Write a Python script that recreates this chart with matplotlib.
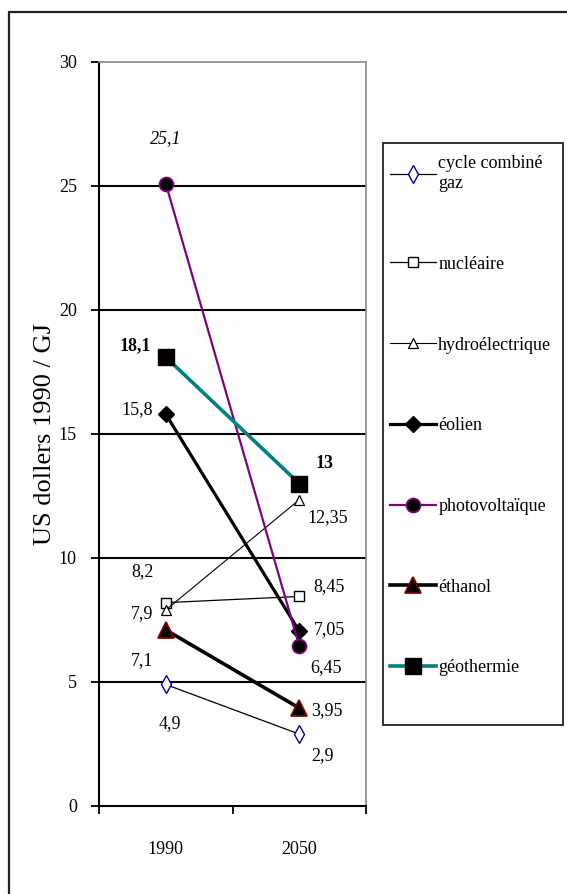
import matplotlib
matplotlib.use("Agg")
import matplotlib.pyplot as plt
from matplotlib.patches import Rectangle

plt.rcParams['font.family'] = ['Liberation Serif', 'DejaVu Serif']

years = ["1990", "2050"]
series_names = ["cycle combiné\ngaz", "nucléaire", "hydroélectrique", "éolien",
                "photovoltaïque", "éthanol", "géothermie"]
cycle_gaz = [4.9, 2.9]
nucleaire = [8.2, 8.45]
hydro = [7.9, 12.35]
eolien = [15.8, 7.05]
photovoltaique = [25.1, 6.45]
ethanol = [7.1, 3.95]
geothermie = [18.1, 13.0]
label_1990 = ["4,9", "8,2", "7,9", "15,8", "25,1", "7,1", "18,1"]
label_2050 = ["2,9", "8,45", "12,35", "7,05", "6,45", "3,95", "13"]
y_ticks = [0, 5, 10, 15, 20, 25, 30]

W, H = 567, 894
fig = plt.figure(figsize=(W / 100, H / 100), dpi=100)
fig.patch.set_facecolor("white")

# outer frame (left/top visible, extends beyond right/bottom)
fig.patches.append(Rectangle((9 / W, -0.1), 2.0, 1 - 12 / H + 0.1, transform=fig.transFigure,
                             fill=False, edgecolor="#222222", linewidth=1.6))
# legend box
fig.patches.append(Rectangle((383 / W, 1 - 725 / H), (563 - 383) / W, (725 - 143) / H,
                             transform=fig.transFigure, fill=True, facecolor="white",
                             edgecolor="#222222", linewidth=1.3, zorder=2))

ax = fig.add_axes([99 / W, 1 - 806 / H, (366 - 99) / W, (806 - 62) / H])
x = [0, 1]

styles = [
    dict(data=cycle_gaz, color="black", lw=0.9, marker="d", ms=9, mfc="white", mec="#0000A0", mew=1.0),
    dict(data=nucleaire, color="black", lw=0.9, marker="s", ms=7, mfc="white", mec="black", mew=1.0),
    dict(data=hydro, color="black", lw=0.8, marker="^", ms=7, mfc="white", mec="black", mew=0.9),
    dict(data=eolien, color="black", lw=2.3, marker="D", ms=8, mfc="black", mec="black", mew=1.0),
    dict(data=photovoltaique, color="#800080", lw=1.6, marker="o", ms=10, mfc="black", mec="#800080", mew=1.3),
    dict(data=ethanol, color="black", lw=2.6, marker="^", ms=12, mfc="black", mec="#800000", mew=1.3),
    dict(data=geothermie, color="#008080", lw=2.6, marker="s", ms=12, mfc="black", mec="black", mew=1.0),
]

handles = []
for name, st in zip(series_names, styles):
    ln, = ax.plot(x, st["data"], color=st["color"], lw=st["lw"], marker=st["marker"],
                  ms=st["ms"], mfc=st["mfc"], mec=st["mec"], mew=st["mew"], label=name,
                  zorder=3, clip_on=False)
    handles.append(ln)

# data labels: offsets in pixels (dx, dy)
off_1990 = [(4, -39), (-23, 31), (-24, -4), (-29, 5), (0, 45), (-24, -31), (-31, 11)]
off_2050 = [(23, -22), (30, 10), (28, -18), (30, 2), (27, -22), (28, -3), (25, 20)]
fs = 13
for i, st in enumerate(styles):
    for j, (labs, offs) in enumerate(((label_1990, off_1990), (label_2050, off_2050))):
        weight = "bold" if i == 6 else "normal"
        style = "italic" if (i == 4 and j == 0) else "normal"
        ax.annotate(labs[i], xy=(x[j], st["data"][j]), xytext=offs[i],
                    textcoords="offset pixels", ha="center", va="center",
                    fontsize=fs, fontweight=weight, fontstyle=style, zorder=4)

ax.set_xlim(-0.5, 1.5)
ax.set_ylim(0, 30)
ax.set_yticks(y_ticks)
ax.set_yticklabels([str(t) for t in y_ticks], fontsize=fs)
for t in [5, 10, 15, 20, 25]:
    ax.axhline(t, color="black", lw=1.5, zorder=1)

ax.set_xticks([-0.5, 0.5, 1.5])
ax.set_xticklabels(["", "", ""])
ax.set_xticks(x, minor=True)
ax.set_xticklabels(years, minor=True, fontsize=fs)
ax.tick_params(axis="x", which="major", direction="out", length=6, width=1.3, color="black")
ax.tick_params(axis="x", which="minor", length=0, pad=25)
ax.tick_params(axis="y", direction="out", length=6, width=1.3, pad=10)

for side in ["left", "bottom"]:
    ax.spines[side].set_color("black")
    ax.spines[side].set_linewidth(1.5)
for side in ["top", "right"]:
    ax.spines[side].set_color("#909090")
    ax.spines[side].set_linewidth(1.3)

ax.set_ylabel("US dollers 1990 / GJ", fontsize=19)
ax.yaxis.set_label_coords((56 - 99) / (366 - 99), 0.5)

leg = fig.legend(handles=handles, loc="upper left",
                 bbox_to_anchor=(376 / W, 1 - 141 / H), frameon=False,
                 fontsize=13, labelspacing=3.53, handlelength=2.5, handletextpad=0.15,
                 borderpad=0.8, borderaxespad=0, markerscale=1.0)
leg.set_zorder(3)

fig.savefig("out.png", dpi=100, facecolor="white")
